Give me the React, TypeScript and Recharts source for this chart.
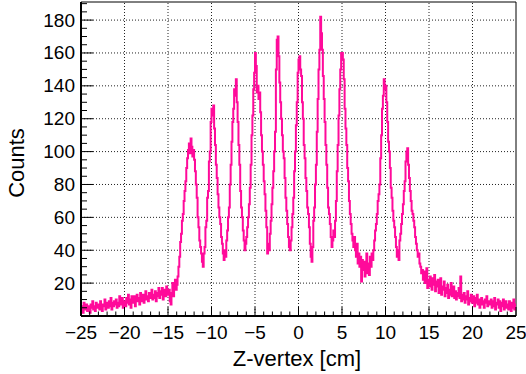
import React from 'react'
import { LineChart, Line, XAxis, YAxis, ReferenceLine, Label } from 'recharts'

// histogram binning (cm)
const binStart = -25
const binWidth = 0.1

// counts per 0.1 cm bin (one row = 1 cm)
const countsLeft = [
  3, 6, 2, 8, 5, 4, 7, 3, 6, 5,
  2, 7, 5, 9, 4, 6, 3, 8, 5, 7,
  6, 4, 9, 5, 3, 7, 6, 10, 4, 8,
  7, 5, 9, 6, 11, 4, 8, 6, 9, 7,
  10, 5, 8, 6, 12, 9, 7, 11, 5, 8,
  9, 6, 11, 8, 13, 7, 10, 5, 12, 9,
  8, 12, 6, 10, 13, 9, 11, 7, 14, 10,
  9, 13, 8, 11, 15, 10, 12, 9, 14, 11,
  12, 16, 10, 13, 11, 15, 9, 14, 12, 17,
  11, 15, 13, 17, 10, 14, 16, 12, 18, 14,
  13, 16, 9, 7, 14, 20, 12, 17, 22, 16,
]
const countsPeaks = [
  19, 24, 30, 36, 45, 50, 58, 62, 70, 76,
  82, 90, 96, 101, 105, 99, 108, 103, 97, 101,
  95, 88, 80, 72, 60, 54, 46, 42, 38, 33,
  30, 38, 42, 54, 58, 72, 76, 94, 100, 118,
  126, 122, 128, 114, 104, 92, 84, 74, 66, 60,
  56, 48, 44, 38, 34, 40, 36, 46, 52, 60,
  66, 80, 92, 106, 118, 126, 138, 134, 144, 130,
  118, 104, 92, 76, 66, 60, 52, 46, 40, 44,
  48, 54, 60, 68, 78, 92, 110, 122, 138, 148,
  160, 152, 136, 140, 132, 136, 124, 110, 100, 92,
  82, 74, 64, 54, 38, 44, 40, 50, 58, 68,
  78, 88, 100, 112, 150, 168, 170, 158, 142, 130,
  120, 110, 100, 96, 84, 72, 64, 56, 48, 42,
  40, 46, 54, 62, 72, 88, 100, 116, 130, 148,
  156, 158, 150, 146, 130, 120, 104, 96, 84, 76,
  66, 62, 54, 44, 36, 33, 42, 58, 66, 80,
  92, 112, 132, 150, 162, 182, 172, 162, 146, 132,
  118, 104, 92, 78, 66, 62, 56, 48, 42, 46,
  52, 48, 58, 70, 88, 104, 122, 138, 150, 160,
  160, 156, 144, 126, 114, 104, 90, 82, 70, 62,
  56, 50, 46, 42, 48, 40, 36, 44, 32, 38,
  30, 36, 21, 34, 28, 33, 24, 30, 38, 26,
  32, 25, 36, 30, 38, 34, 40, 46, 52, 56,
  62, 70, 74, 80, 96, 110, 126, 134, 144, 138,
  140, 130, 118, 106, 100, 90, 78, 72, 64, 58,
  54, 48, 42, 36, 40, 34, 46, 50, 56, 62,
  68, 76, 82, 94, 100, 102, 92, 84, 76, 70,
  64, 62, 58, 54, 48, 44, 40, 36, 38, 32,
]
const countsRight = [
  30, 26, 28, 22, 27, 20, 25, 29, 17, 22,
  18, 24, 20, 16, 23, 19, 25, 15, 21, 18,
  22, 14, 19, 23, 13, 18, 16, 21, 12, 17,
  14, 19, 11, 16, 13, 20, 12, 15, 18, 11,
  15, 10, 14, 12, 17, 11, 24, 9, 13, 10,
  14, 8, 12, 10, 15, 7, 11, 9, 13, 8,
  10, 12, 6, 11, 8, 13, 7, 10, 5, 9,
  11, 7, 9, 5, 10, 8, 12, 6, 9, 7,
  8, 10, 5, 9, 6, 11, 4, 8, 7, 10,
  5, 9, 3, 8, 6, 10, 4, 7, 9, 5,
  7, 4, 9, 6, 3, 8, 5, 10, 4, 7,
]

const xLabels = [-25, -20, -15, -10, -5, 0, 5, 10, 15, 20, 25]
const yLabels = [20, 40, 60, 80, 100, 120, 140, 160, 180]
const gridX = [-20, -15, -10, -5, 0, 5, 10, 15, 20]
const gridY = [20, 40, 60, 80, 100, 120, 140, 160, 180]
const xTicks = Array.from({ length: 51 }, (_, i) => -25 + i)
const yTicks = Array.from({ length: 39 }, (_, i) => i * 5)

const counts = [...countsLeft, ...countsPeaks, ...countsRight]
const data = counts.map((c, i) => ({ x: +(binStart + i * binWidth).toFixed(2), y: c }))
data.push({ x: 25, y: counts[counts.length - 1] })

const FONT = '"Liberation Sans", Arial, Helvetica, sans-serif'
const PINK = '#ff0a9a'

const fmt = (v: number) => (v < 0 ? '\u2212' + Math.abs(v) : String(v))

const XTick = (props: any) => {
  const { x, y, payload } = props
  const major = xLabels.includes(payload.value)
  return (
    <g>
      <line x1={x} x2={x} y1={y} y2={y - (major ? 9 : 4.5)} stroke="#000" />
      {major && (
        <text x={x} y={y + 16} textAnchor="middle" dominantBaseline="central" fontSize={19} fontFamily={FONT} fill="#000">
          {fmt(payload.value)}
        </text>
      )}
    </g>
  )
}

const YTick = (props: any) => {
  const { x, y, payload } = props
  const major = payload.value % 20 === 0
  const labelled = yLabels.includes(payload.value)
  return (
    <g>
      <line x1={x} x2={x + (major ? 12 : 6)} y1={y} y2={y} stroke="#000" />
      {labelled && (
        <text x={x - 6} y={y} textAnchor="end" dominantBaseline="central" fontSize={19} fontFamily={FONT} fill="#000">
          {payload.value}
        </text>
      )}
    </g>
  )
}

export default function App() {
  return (
    <div style={{ position: 'absolute', left: 0, top: 0, background: '#fff' }}>
      <LineChart width={526} height={374} data={data} margin={{ top: 2, right: 10, bottom: 0, left: 0 }}>
        <XAxis
          type="number"
          dataKey="x"
          domain={[-25, 25]}
          ticks={xTicks}
          interval={0}
          tickSize={0}
          tickMargin={0}
          tickLine={false}
          tick={<XTick />}
          height={58}
          axisLine={{ stroke: '#000', strokeWidth: 2 }}
          allowDataOverflow
        >
          <Label
            content={() => (
              <text x={297} y={366} textAnchor="middle" fontSize={22} fontFamily={FONT} fill="#000">
                Z-vertex [cm]
              </text>
            )}
          />
        </XAxis>
        <YAxis
          type="number"
          domain={[0, 191]}
          ticks={yTicks}
          interval={0}
          tickSize={0}
          tickMargin={0}
          tickLine={false}
          tick={<YTick />}
          width={81}
          axisLine={{ stroke: '#000', strokeWidth: 2 }}
          allowDataOverflow
        >
          <Label
            content={() => (
              <text transform="translate(24,163) rotate(-90)" textAnchor="middle" fontSize={22} fontFamily={FONT} fill="#000">
                Counts
              </text>
            )}
          />
        </YAxis>
        {gridX.map((v) => (
          <ReferenceLine key={'gx' + v} x={v} stroke="#222" strokeDasharray="1 2" />
        ))}
        {gridY.map((v) => (
          <ReferenceLine key={'gy' + v} y={v} stroke="#222" strokeDasharray="1 2" />
        ))}
        <ReferenceLine y={191} stroke="#000" />
        <ReferenceLine x={25} stroke="#000" />
        <Line
          type="stepAfter"
          dataKey="y"
          stroke={PINK}
          strokeWidth={2}
          dot={false}
          activeDot={false}
          isAnimationActive={false}
        />
      </LineChart>
    </div>
  )
}
